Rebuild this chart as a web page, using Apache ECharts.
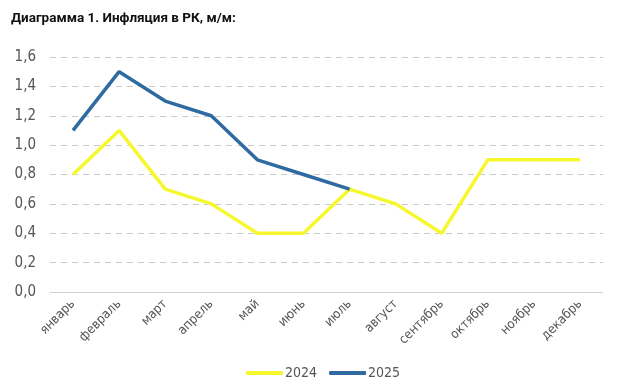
<!DOCTYPE html>
<html><head><meta charset="utf-8">
<script src="https://cdn.jsdelivr.net/npm/echarts@6/dist/echarts.min.js"></script>
<style>html,body{margin:0;padding:0;background:#fff}#c{width:624px;height:390px}</style>
</head><body><div id="c"></div>
<script>
const months = ['январь','февраль','март','апрель','май','июнь','июль','август','сентябрь','октябрь','ноябрь','декабрь'];
const s2024 = [0.8, 1.1, 0.7, 0.6, 0.4, 0.4, 0.7, 0.6, 0.4, 0.9, 0.9, 0.9];
const s2025 = [1.1, 1.5, 1.3, 1.2, 0.9, 0.8, 0.7];
const chart = echarts.init(document.getElementById('c'));
const cond = '"DejaVu Sans Condensed", "Liberation Sans Narrow", sans-serif';
chart.setOption({
  animation: false,
  title: { text: 'Диаграмма 1. Инфляция в РК, м/м:', left: 6, top: 7,
    textStyle: { fontFamily: 'Roboto', fontWeight: 'bold', fontSize: 13.5, color: '#111' } },
  grid: { left: 50, right: 21, top: 57, bottom: 98 },
  legend: { bottom: 5, left: 241, itemWidth: 37, itemHeight: 4, itemGap: 12,
    icon: 'roundRect',
    textStyle: { fontFamily: cond, fontSize: 14, color: '#555', padding: [0, 0, 0, -3] },
    data: ['2024', '2025'] },
  xAxis: { type: 'category', data: months, boundaryGap: true,
    axisLine: { lineStyle: { color: '#d0d0d0', width: 1 } },
    axisTick: { show: false },
    axisLabel: { rotate: 45, interval: 0, fontFamily: cond, fontSize: 13, color: '#555', margin: 10 } },
  yAxis: { type: 'value', min: 0, max: 1.6, interval: 0.2,
    axisLabel: { fontFamily: cond, fontSize: 15, color: '#555', margin: 14,
      formatter: v => v.toFixed(1).replace('.', ',') },
    splitLine: { lineStyle: { color: '#c8c8c8', type: [6, 5], width: 1 } } },
  series: [
    { name: '2024', type: 'line', data: s2024, symbol: 'none',
      lineStyle: { color: '#F7F72E', width: 3.5 }, itemStyle: { color: '#F7F72E' } },
    { name: '2025', type: 'line', data: s2025, symbol: 'none',
      lineStyle: { color: '#2F6BA0', width: 3.5 }, itemStyle: { color: '#2F6BA0' } }
  ]
});
</script></body></html>
